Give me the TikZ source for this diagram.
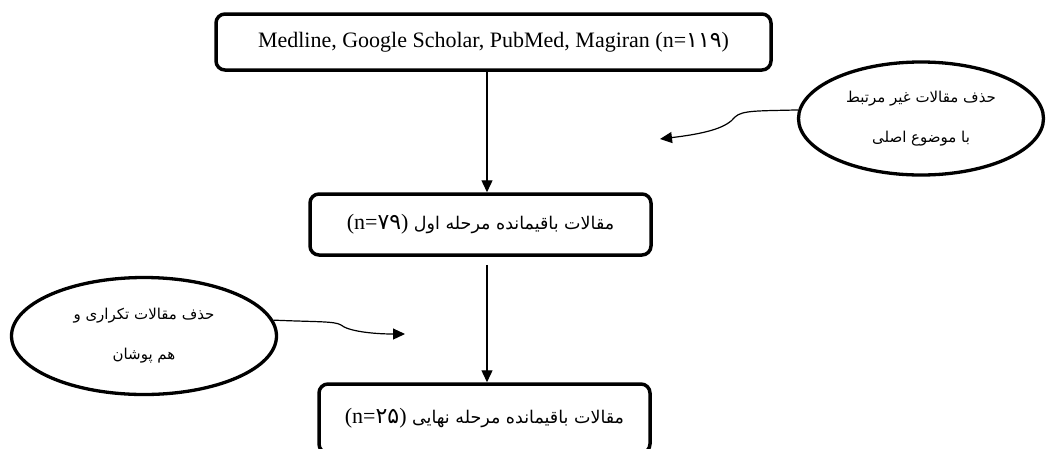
\documentclass[tikz,border=0pt]{standalone}
\usepackage{fontspec}
\setmainfont{Liberation Serif}
\newfontfamily\arabicfont[Script=Arabic]{DejaVu Sans}
\newcommand{\boxarabic}{\arabicfont\fontsize{17.5}{24}\selectfont}
\TeXXeTstate=1
\usetikzlibrary{shapes.geometric,arrows.meta}
\begin{document}
\begin{tikzpicture}[x=1pt,y=-1pt,
  box/.style={draw, line width=3.5pt, rounded corners=9pt, inner sep=0pt},
  oval/.style={draw, ellipse, line width=3.3pt, inner sep=0pt, align=center,
    font=\arabicfont\fontsize{15}{40}\selectfont},
  flow/.style={line width=1.4pt, -{Triangle[length=12pt,width=11pt]}},
  wavy/.style={line width=1.2pt, -{Triangle[length=12pt,width=11pt]}},
  bfont/.style={font=\fontsize{22}{26}\selectfont}]
\useasboundingbox (0,0) rectangle (1047,448);
\fill[white] (0,0) rectangle (1047,448);

\node[box, bfont, minimum width=555pt, minimum height=56pt] (src) at (493.5,42)
  {Medline, Google Scholar, PubMed, Magiran (n={\arabicfont ۱۱۹})};
\node[box, bfont, minimum width=341pt, minimum height=61pt] (mid) at (480.5,224.5)
  {(n={\arabicfont ۷۹}) {\boxarabic\beginR مقالات باقیمانده مرحله اول\endR}};
\node[box, bfont, minimum width=331pt, minimum height=69pt] (fin) at (484.5,418.5)
  {(n={\arabicfont ۲۵}) {\boxarabic\beginR مقالات باقیمانده مرحله نهایی\endR}};

\node[oval, minimum width=245pt, minimum height=113pt] (rel) at (921,118.5)
  {\beginR حذف مقالات غیر مرتبط\endR\\\beginR با موضوع اصلی\endR};
\node[oval, minimum width=265pt, minimum height=117pt] (dup) at (144,336)
  {\beginR حذف مقالات تکراری و\endR\\\beginR هم پوشان\endR};

\coordinate (ax) at (487,0);
\coordinate (t1) at (660,139);
\coordinate (t2) at (405,334);

\draw[flow] (src.south -| ax) -- (mid.north -| ax);
\draw[flow, shorten <=8pt] (mid.south -| ax) -- (fin.north -| ax);

\draw[wavy] (rel.176) .. controls (760,111) and (742,110) .. (735,117)
  .. controls (727,127) and (710,133) .. (t1);
\draw[wavy] (dup.7) .. controls (315,322) and (335,321) .. (341,325)
  .. controls (348,331) and (372,334) .. (t2);
\end{tikzpicture}
\end{document}
